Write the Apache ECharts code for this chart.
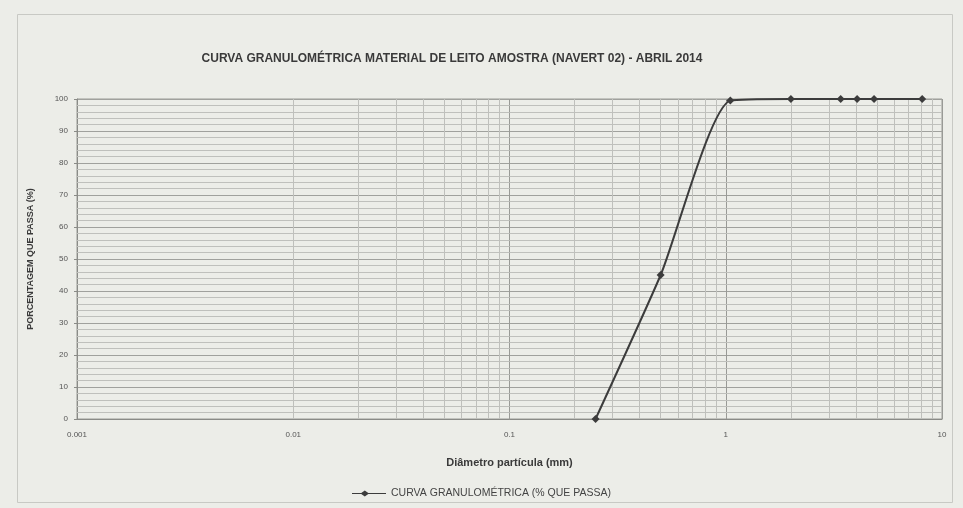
<!DOCTYPE html>
<html>
<head>
<meta charset="utf-8">
<script src="https://cdn.jsdelivr.net/npm/echarts@6/dist/echarts.min.js"></script>
<style>
html,body{margin:0;padding:0;background:#ecede8;}
#chart{width:963px;height:508px;}
</style>
</head>
<body>
<div id="chart"></div>
<script>
// ---- data ----
const titleText = 'CURVA GRANULOMÉTRICA MATERIAL DE LEITO AMOSTRA (NAVERT 02) - ABRIL 2014';
const seriesName = 'CURVA GRANULOMÉTRICA (% QUE PASSA)';
const xAxisName = 'Diâmetro partícula (mm)';
const yAxisName = 'PORCENTAGEM QUE PASSA (%)';
const diameters = [0.25, 0.5, 1.05, 2.0, 3.4, 4.05, 4.85, 8.1];
const passing   = [0, 45, 99.5, 100, 100, 100, 100, 100];
const xTickLabels = ['0.001', '0.01', '0.1', '1', '10'];
const yTickLabels = ['0', '10', '20', '30', '40', '50', '60', '70', '80', '90', '100'];

// log-paper vertical lines (2..9 per decade)
const decades = [0.001, 0.01, 0.1, 1];
const minorVals = [];
decades.forEach(d => { for (let k = 2; k <= 9; k++) minorVals.push(+(d * k).toPrecision(3)); });
const majorVals = [0.001, 0.01, 0.1, 1, 10];
// horizontal minor lines every 2 %
const hMinor = [];
for (let v = 2; v < 100; v += 2) if (v % 10 !== 0) hMinor.push(v);

const chart = echarts.init(document.getElementById('chart'), null, {renderer: 'canvas'});
const pts = diameters.map((d, i) => [d, passing[i]]);
const FF = 'Liberation Sans, Arial';

chart.setOption({
  backgroundColor: '#ecede8',
  animation: false,
  title: {
    text: titleText,
    left: 447, top: 48, textAlign: 'center',
    textStyle: {fontFamily: FF, fontSize: 12, fontWeight: 'bold', color: '#3a3a3a'}
  },
  graphic: [{
    type: 'rect', left: 15, top: 12, silent: true,
    shape: {width: 935, height: 488},
    style: {fill: 'none', stroke: '#c8c9c4', lineWidth: 1}
  }],
  legend: {
    bottom: 4, left: 'center',
    data: [seriesName],
    icon: 'path://M0,5 L40,5 L40,6 L0,6 Z M15,2 L20,5.5 L15,9 L10,5.5 Z',
    itemWidth: 34, itemHeight: 7,
    textStyle: {fontFamily: FF, fontSize: 10.5, color: '#444'}
  },
  grid: {left: 77, right: 21, top: 99, bottom: 89, show: true, borderColor: '#9a9b97', borderWidth: 1},
  xAxis: {
    type: 'log', logBase: 10, min: 0.001, max: 10,
    name: xAxisName, nameLocation: 'middle', nameGap: 38,
    nameTextStyle: {fontFamily: FF, fontSize: 11, color: '#3a3a3a', fontWeight: 'bold'},
    axisLine: {lineStyle: {color: '#8a8b87'}},
    axisTick: {show: false},
    axisLabel: {fontFamily: FF, fontSize: 8, color: '#555', margin: 12,
      formatter: v => { const i = majorVals.findIndex(m => Math.abs(Math.log10(m) - Math.log10(v)) < 1e-6); return i >= 0 ? xTickLabels[i] : ''; }},
    splitLine: {show: true, lineStyle: {color: '#999a96', width: 1}},
    minorTick: {show: false}, minorSplitLine: {show: false}
  },
  yAxis: {
    type: 'value', min: 0, max: 100, interval: 10,
    name: yAxisName, nameLocation: 'middle', nameGap: 42, nameRotate: 90,
    nameTextStyle: {fontFamily: FF, fontSize: 9, color: '#3a3a3a', fontWeight: 'bold'},
    axisLine: {show: true, lineStyle: {color: '#8a8b87'}},
    axisTick: {show: true, length: 3, lineStyle: {color: '#8a8b87'}},
    axisLabel: {fontFamily: FF, fontSize: 8, color: '#555', margin: 9,
      formatter: v => yTickLabels[Math.round(v / 10)]},
    splitLine: {show: true, lineStyle: {color: '#a0a19d', width: 1}}
  },
  series: [
    {
      name: 'grid-lines', type: 'line', data: [], silent: true, z: 1,
      markLine: {
        silent: true, symbol: 'none', label: {show: false}, animation: false, z: 1,
        lineStyle: {color: '#bfc0bc', width: 1, type: 'solid'},
        data: minorVals.map(v => ({xAxis: v})).concat(hMinor.map(v => ({yAxis: v})))
      }
    },
    {
      name: seriesName, type: 'line', data: pts, smooth: 0.2, z: 10,
      symbol: 'diamond', symbolSize: 8,
      itemStyle: {color: '#3c3c3c'},
      lineStyle: {color: '#3c3c3c', width: 2}
    }
  ]
});
</script>
</body>
</html>
